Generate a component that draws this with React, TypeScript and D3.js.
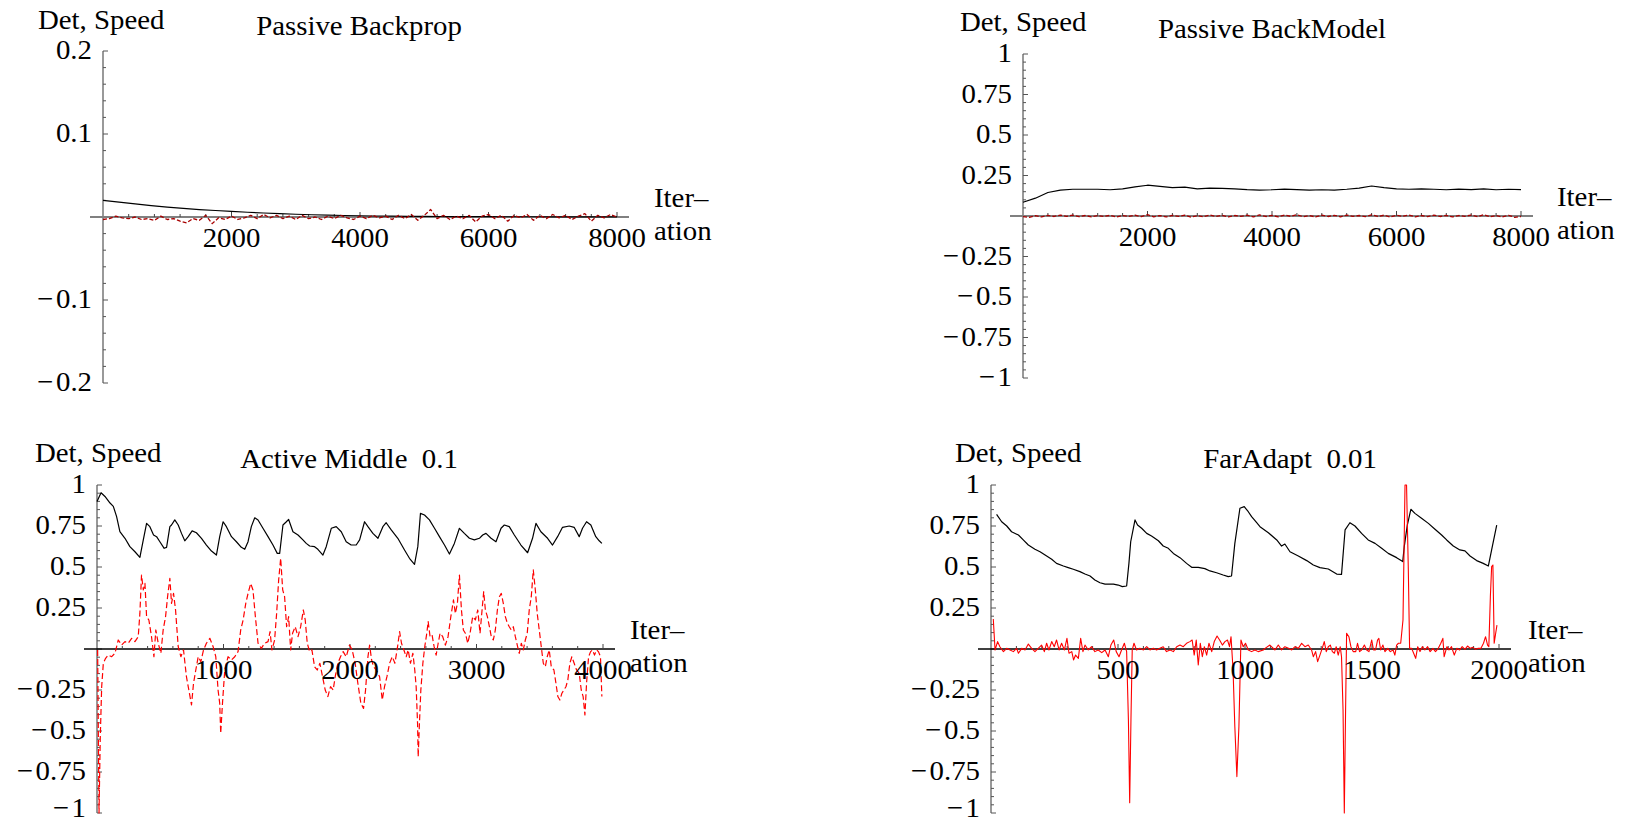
import React from 'react';
import * as d3 from 'd3';

const FONT = '"Liberation Serif", "Times New Roman", serif';

type Pt = [number, number];

// Passive Backprop (Det every 250 iterations, Speed every 100)
const backpropDet = [
  0.02, 0.018, 0.0158, 0.0138, 0.012, 0.0105, 0.009, 0.0078, 0.0067, 0.0057, 0.0048,
  0.004, 0.0033, 0.0027, 0.0022, 0.0018, 0.0015, 0.0012, 0.001, 0.0008, 0.0007,
  0.0006, 0.0005, 0.0004, 0.0004, 0.0003, 0.0003, 0.0003, 0.0002, 0.0002, 0.0002,
  0.0002, 0.0002,
];
const backpropSpeed = [
  -0.003, -0.002, 0.001, -0.001, -0.002, 0.0, -0.003, -0.002, -0.004, 0.001,
  -0.003, -0.002, -0.005, -0.007, -0.002, -0.004, 0.002, -0.008, -0.001, -0.003,
  0.001, -0.003, -0.001, 0.002, -0.002, 0.003, -0.001, 0.002, -0.002, 0.001,
  -0.003, 0.002, -0.002, 0.0, -0.003, 0.001, -0.002, 0.002, -0.001, -0.003,
  0.001, -0.002, 0.002, -0.001, 0.001, -0.003, 0.002, -0.002, 0.003, -0.004,
  0.002, 0.009, -0.002, 0.002, -0.003, 0.001, -0.002, 0.002, -0.006, 0.001,
  0.003, -0.002, 0.002, -0.005, 0.002, -0.001, 0.003, -0.004, 0.002, -0.002,
  0.003, -0.001, 0.002, -0.003, 0.001, 0.004, -0.005, 0.002, -0.001, 0.003, 0.0,
];

// Passive BackModel (Det every 200 iterations, Speed every 100)
const backModelDet = [
  0.085, 0.11, 0.145, 0.16, 0.165, 0.165, 0.165, 0.162, 0.168, 0.18, 0.19,
  0.183, 0.175, 0.178, 0.168, 0.172, 0.17, 0.168, 0.163, 0.16, 0.162,
  0.166, 0.163, 0.16, 0.162, 0.16, 0.165, 0.172, 0.185, 0.175, 0.168,
  0.165, 0.168, 0.165, 0.162, 0.166, 0.163, 0.168, 0.162, 0.165, 0.163,
];
const backModelSpeed = [
  -0.004, -0.008, 0.002, -0.006, 0.004, -0.003, 0.006, -0.002, 0.005, -0.004,
  0.003, -0.005, 0.002, -0.003, 0.004, -0.006, 0.003, -0.002, 0.005, -0.004,
  0.008, -0.005, 0.003, -0.006, 0.004, -0.002, 0.005, -0.007, 0.002, -0.004,
  0.006, -0.003, 0.004, -0.005, 0.003, -0.002, 0.005, -0.006, 0.007, -0.003,
  0.004, -0.005, 0.006, -0.002, 0.008, -0.004, 0.003, -0.006, 0.005, -0.003,
  0.004, -0.005, 0.006, -0.002, 0.003, -0.004, 0.007, -0.003, 0.005, -0.006,
  0.004, -0.002, 0.006, -0.005, 0.003, -0.004, 0.005, -0.003, 0.004, -0.006,
  0.003, -0.002, 0.006, -0.004, 0.008, -0.005, 0.003, -0.006, 0.004, -0.008, -0.003,
];

// Active Middle 0.1 : [iteration, value]
const activeDet: Pt[] = [
  [0, 0.9], [32, 0.953], [63, 0.93], [103, 0.89], [129, 0.87], [155, 0.807], [181, 0.715],
  [221, 0.675], [260, 0.624], [300, 0.593], [339, 0.559], [366, 0.665], [392, 0.766],
  [418, 0.746], [447, 0.695], [471, 0.685], [497, 0.654], [531, 0.614], [550, 0.62],
  [576, 0.746], [589, 0.756], [615, 0.787], [642, 0.756], [668, 0.705], [694, 0.66],
  [721, 0.685], [752, 0.72], [786, 0.709], [826, 0.675], [865, 0.634], [905, 0.597],
  [944, 0.573], [970, 0.685], [997, 0.776], [1023, 0.746], [1063, 0.685], [1102, 0.654],
  [1141, 0.62], [1168, 0.608], [1194, 0.654], [1220, 0.746], [1247, 0.8], [1273, 0.787],
  [1312, 0.736], [1352, 0.685], [1391, 0.634], [1425, 0.583], [1444, 0.583], [1470, 0.756],
  [1497, 0.776], [1515, 0.79], [1549, 0.715], [1589, 0.695], [1628, 0.665], [1654, 0.644],
  [1681, 0.628], [1720, 0.624], [1746, 0.608], [1786, 0.573], [1812, 0.624], [1852, 0.736],
  [1891, 0.746], [1931, 0.715], [1970, 0.654], [2009, 0.634], [2049, 0.634], [2076, 0.665],
  [2115, 0.776], [2142, 0.746], [2181, 0.705], [2221, 0.675], [2260, 0.746], [2286, 0.77],
  [2326, 0.726], [2378, 0.675], [2431, 0.604], [2470, 0.553], [2510, 0.516], [2536, 0.624],
  [2557, 0.827], [2589, 0.817], [2628, 0.787], [2668, 0.736], [2707, 0.685], [2747, 0.634],
  [2786, 0.579], [2825, 0.644], [2865, 0.736], [2904, 0.705], [2944, 0.675], [2983, 0.665],
  [3023, 0.675], [3049, 0.695], [3075, 0.705], [3115, 0.675], [3154, 0.654], [3194, 0.736],
  [3220, 0.756], [3259, 0.746], [3299, 0.695], [3351, 0.634], [3404, 0.587], [3443, 0.675],
  [3470, 0.766], [3509, 0.715], [3562, 0.675], [3601, 0.634], [3641, 0.685], [3680, 0.742],
  [3733, 0.75], [3772, 0.742], [3812, 0.685], [3838, 0.736], [3870, 0.776], [3904, 0.756],
  [3943, 0.685], [3970, 0.66], [3991, 0.644],
];
const activeSpeed: Pt[] = [
  [5, -0.006], [16, -1.0], [26, -0.535], [37, -0.23], [50, -0.087], [68, -0.057], [89, -0.037],
  [116, -0.047], [142, -0.026], [168, 0.055], [195, 0.024], [221, 0.045], [247, 0.035],
  [274, 0.065], [300, 0.045], [326, 0.075], [339, 0.217], [352, 0.451], [366, 0.36],
  [379, 0.4], [392, 0.197], [410, 0.177], [431, 0.075], [450, -0.047], [465, 0.116],
  [484, 0.035], [505, -0.026], [523, 0.116], [542, 0.197], [558, 0.319], [576, 0.431],
  [589, 0.278], [605, 0.339], [621, 0.238], [642, 0.014], [663, -0.047], [684, -0.006],
  [707, -0.169], [726, -0.25], [747, -0.341], [763, -0.209], [781, -0.128], [800, -0.047],
  [821, -0.077], [842, -0.006], [865, 0.035], [892, 0.065], [918, 0.014], [939, -0.047],
  [957, -0.25], [970, -0.331], [978, -0.514], [992, -0.331], [1010, -0.128], [1036, -0.047],
  [1063, -0.067], [1089, -0.047], [1115, -0.016], [1136, 0.116], [1155, 0.177], [1176, 0.278],
  [1194, 0.339], [1215, 0.4], [1233, 0.36], [1252, 0.197], [1273, 0.035], [1299, 0.004],
  [1325, 0.035], [1352, 0.045], [1368, 0.106], [1383, -0.006], [1404, 0.055], [1420, 0.217],
  [1436, 0.421], [1452, 0.553], [1468, 0.36], [1483, 0.319], [1499, 0.136], [1515, 0.197],
  [1531, -0.006], [1546, 0.096], [1567, 0.136], [1589, 0.075], [1610, 0.136], [1631, 0.238],
  [1646, 0.177], [1662, 0.035], [1681, -0.016], [1699, -0.006], [1720, -0.108], [1741, -0.128],
  [1762, -0.087], [1783, -0.169], [1804, -0.25], [1825, -0.29], [1846, -0.23], [1867, -0.25],
  [1883, -0.169], [1904, -0.087], [1925, -0.047], [1946, -0.016], [1970, -0.047], [1996, 0.024],
  [2017, -0.006], [2041, -0.087], [2062, -0.209], [2086, -0.331], [2107, -0.362], [2123, -0.25],
  [2142, -0.047], [2155, 0.024], [2171, -0.067], [2186, -0.108], [2207, -0.128], [2234, -0.169],
  [2255, -0.311], [2273, -0.23], [2292, -0.169], [2313, -0.087], [2334, -0.047], [2355, -0.087],
  [2376, 0.014], [2392, 0.106], [2407, 0.035], [2426, -0.006], [2444, -0.047], [2460, -0.006],
  [2478, -0.087], [2497, -0.026], [2512, -0.128], [2523, -0.23], [2534, -0.453], [2539, -0.657],
  [2549, -0.453], [2560, -0.25], [2576, -0.087], [2591, 0.014], [2607, 0.096], [2618, 0.167],
  [2633, 0.075], [2649, 0.085], [2665, 0.014], [2681, -0.037], [2697, 0.035], [2712, 0.096],
  [2733, 0.075], [2754, 0.024], [2775, 0.075], [2797, 0.197], [2818, 0.299], [2833, 0.217],
  [2849, 0.278], [2865, 0.451], [2881, 0.238], [2896, 0.116], [2912, 0.096], [2931, 0.035],
  [2949, 0.096], [2970, 0.197], [2991, 0.177], [3010, 0.238], [3028, 0.096], [3044, 0.238],
  [3057, 0.35], [3070, 0.238], [3086, 0.197], [3102, 0.136], [3117, 0.075], [3133, 0.055],
  [3149, 0.116], [3165, 0.238], [3181, 0.319], [3196, 0.339], [3212, 0.278], [3228, 0.197],
  [3244, 0.157], [3259, 0.136], [3275, 0.116], [3291, 0.136], [3307, 0.075], [3325, 0.014],
  [3338, -0.026], [3354, 0.035], [3370, -0.006], [3386, 0.055], [3401, 0.096], [3417, 0.238],
  [3433, 0.319], [3449, 0.482], [3465, 0.36], [3480, 0.217], [3496, 0.116], [3512, 0.014],
  [3528, -0.087], [3544, -0.108], [3559, -0.047], [3575, -0.006], [3591, -0.108], [3612, -0.128],
  [3628, -0.209], [3643, -0.29], [3659, -0.311], [3675, -0.27], [3691, -0.25], [3707, -0.23],
  [3722, -0.189], [3738, -0.087], [3754, -0.047], [3772, -0.087], [3791, -0.128], [3812, -0.148],
  [3828, -0.25], [3843, -0.29], [3857, -0.402], [3870, -0.209], [3886, -0.047], [3902, -0.016],
  [3917, -0.006], [3933, -0.037], [3949, -0.006], [3964, -0.016], [3980, -0.047], [3991, -0.29],
];

// FarAdapt 0.01 : [iteration, value]
const farDet: Pt[] = [
  [22, 0.821], [42, 0.776], [62, 0.75], [81, 0.715], [108, 0.695], [127, 0.665], [147, 0.634],
  [173, 0.608], [193, 0.593], [213, 0.573], [239, 0.547], [258, 0.522], [285, 0.506],
  [304, 0.496], [324, 0.486], [350, 0.472], [370, 0.457], [390, 0.445], [409, 0.421],
  [429, 0.404], [449, 0.396], [482, 0.396], [501, 0.39], [517, 0.38], [534, 0.384],
  [543, 0.522], [550, 0.654], [567, 0.787], [577, 0.756], [593, 0.736], [613, 0.705],
  [632, 0.689], [659, 0.66], [678, 0.628], [698, 0.614], [718, 0.583], [744, 0.557],
  [770, 0.522], [790, 0.498], [816, 0.498], [842, 0.49], [862, 0.476], [888, 0.465],
  [914, 0.451], [934, 0.441], [947, 0.445], [960, 0.644], [980, 0.858], [997, 0.868],
  [1013, 0.837], [1026, 0.807], [1046, 0.77], [1059, 0.746], [1092, 0.709], [1125, 0.665],
  [1144, 0.628], [1157, 0.64], [1177, 0.593], [1210, 0.567], [1243, 0.539], [1269, 0.512],
  [1295, 0.496], [1328, 0.488], [1361, 0.457], [1380, 0.455], [1394, 0.726], [1413, 0.77],
  [1433, 0.75], [1459, 0.705], [1485, 0.665], [1512, 0.644], [1538, 0.614], [1564, 0.583],
  [1597, 0.557], [1621, 0.533], [1627, 0.624], [1639, 0.756], [1653, 0.852], [1669, 0.827],
  [1695, 0.797], [1722, 0.766], [1748, 0.73], [1774, 0.695], [1794, 0.665], [1820, 0.628],
  [1846, 0.604], [1866, 0.598], [1886, 0.567], [1912, 0.539], [1938, 0.522], [1958, 0.506],
  [1971, 0.604], [1991, 0.756],
];
const farSpeed: Pt[] = [
  [9, 0.183], [16, -0.006], [26, 0.045], [35, 0.014], [49, -0.016], [62, 0.004], [75, -0.006],
  [88, -0.016], [101, 0.004], [108, -0.026], [121, 0.004], [134, -0.006], [147, 0.03],
  [160, 0.004], [173, -0.016], [186, 0.004], [199, 0.024], [210, -0.016], [219, 0.035],
  [228, -0.006], [239, 0.045], [249, 0.014], [258, 0.055], [268, -0.006], [278, 0.035],
  [289, -0.006], [299, 0.065], [307, -0.026], [318, -0.016], [325, -0.067], [333, -0.037],
  [344, -0.057], [353, 0.065], [362, -0.016], [370, 0.024], [383, -0.006], [396, 0.014],
  [409, -0.016], [422, -0.006], [436, -0.022], [449, -0.006], [462, -0.047], [472, 0.024],
  [483, 0.055], [493, -0.016], [504, -0.047], [514, -0.006], [525, 0.035], [534, -0.016],
  [541, -0.433], [546, -0.937], [551, -0.433], [556, -0.006], [563, 0.035], [573, -0.006],
  [586, 0.004], [600, -0.006], [613, 0.014], [626, -0.006], [639, 0.004], [652, -0.006],
  [665, 0.004], [678, 0.014], [691, -0.016], [705, -0.006], [718, -0.016], [731, 0.014],
  [744, 0.024], [757, 0.014], [770, 0.035], [783, 0.045], [792, 0.055], [800, -0.037],
  [808, 0.055], [816, -0.098], [824, 0.035], [832, -0.047], [840, 0.014], [849, -0.037],
  [858, 0.035], [869, -0.016], [879, 0.045], [890, 0.079], [900, 0.055], [911, 0.024],
  [921, 0.045], [931, 0.055], [939, 0.014], [945, 0.075], [953, -0.128], [960, -0.474],
  [968, -0.778], [976, -0.474], [984, 0.055], [993, 0.014], [1002, 0.035], [1013, -0.006],
  [1026, -0.016], [1039, -0.006], [1052, -0.016], [1072, -0.006], [1079, 0.004], [1098, 0.024],
  [1118, -0.006], [1131, 0.024], [1144, -0.006], [1157, 0.014], [1171, 0.004], [1184, -0.006],
  [1197, 0.014], [1210, 0.004], [1223, 0.035], [1236, 0.014], [1249, 0.024], [1262, -0.006],
  [1269, -0.047], [1278, -0.016], [1286, -0.077], [1295, -0.037], [1304, 0.004], [1312, 0.045],
  [1320, -0.016], [1328, 0.014], [1336, 0.024], [1344, -0.016], [1352, -0.026], [1359, 0.014],
  [1367, -0.037], [1375, 0.014], [1380, -0.047], [1386, -0.372], [1391, -1.0], [1396, -0.372],
  [1400, 0.096], [1409, 0.075], [1417, 0.014], [1426, -0.016], [1436, -0.016], [1443, 0.035],
  [1451, -0.016], [1459, -0.006], [1470, 0.024], [1479, -0.006], [1488, -0.016], [1499, 0.055],
  [1506, -0.006], [1514, -0.006], [1522, 0.055], [1527, 0.065], [1534, -0.006], [1543, 0.024],
  [1551, -0.016], [1562, 0.004], [1572, -0.016], [1583, -0.006], [1590, -0.037], [1597, 0.024],
  [1604, 0.035], [1613, 0.035], [1622, 0.177], [1630, 1.0], [1636, 1.0], [1643, 0.482],
  [1648, 0.004], [1656, 0.004], [1664, -0.026], [1672, -0.057], [1680, 0.014], [1689, -0.016],
  [1698, 0.014], [1708, -0.006], [1719, 0.014], [1729, -0.016], [1740, 0.004], [1750, -0.016],
  [1761, 0.004], [1771, 0.035], [1779, 0.065], [1784, -0.047], [1795, 0.014], [1803, -0.006],
  [1813, 0.014], [1824, -0.037], [1834, 0.004], [1845, -0.006], [1855, 0.014], [1866, -0.002],
  [1876, 0.018], [1887, 0.004], [1897, 0.01], [1908, -0.002], [1918, 0.004], [1929, 0.004],
  [1939, 0.035], [1947, 0.075], [1955, 0.024], [1960, 0.014], [1966, 0.319], [1971, 0.502],
  [1976, 0.512], [1981, 0.035], [1987, 0.096], [1992, 0.146],
];

const passiveYTicks = [-0.2, -0.1, 0.1, 0.2];
const unitYTicks = [-1, -0.75, -0.5, -0.25, 0.25, 0.5, 0.75, 1];
const passiveXTicks = [2000, 4000, 6000, 8000];
const activeXTicks = [1000, 2000, 3000, 4000];
const farXTicks = [500, 1000, 1500, 2000];

// evenly spread a regularly sampled series over [0, xMax]
const spread = (vals: number[], xMax: number): Pt[] =>
  vals.map((v, i) => [(i * xMax) / (vals.length - 1), v]);

const fmt = (v: number) => (v < 0 ? '\u2212\u200a' + Math.abs(v) : String(v));

function Label({ x, y, anchor = 'start', children }: any) {
  return (
    <text
      transform={`translate(${x},${y}) scale(1.03,1)`}
      textAnchor={anchor}
      fontFamily={FONT}
      fontSize={28}
      fill="#000"
      style={{ whiteSpace: 'pre' }}
    >
      {children}
    </text>
  );
}

interface Series {
  points: Pt[];
  color: string;
  width: number;
  dash?: string;
}

interface PanelProps {
  title: string;
  titleX: number;
  titleY: number;
  detX: number;
  detY: number;
  axisX: number;
  xEnd: number;
  yTop: number;
  yBottom: number;
  xMax: number;
  yLim: number;
  xTicks: number[];
  xMinor: number;
  yTicks: number[];
  yMinor: number;
  iterX: number;
  xAxisColor: string;
  xAxisWidth: number;
  series: Series[];
}

function Panel(p: PanelProps) {
  const x = d3.scaleLinear().domain([0, p.xMax]).range([p.axisX, p.xEnd]);
  const y = d3.scaleLinear().domain([-p.yLim, p.yLim]).range([p.yBottom, p.yTop]);
  const y0 = y(0);
  const line = d3
    .line<Pt>()
    .x((d) => x(d[0]))
    .y((d) => y(d[1]));

  const yMajor = p.yTicks[p.yTicks.length - 1] - p.yTicks[p.yTicks.length - 2];
  const xMajor = p.xTicks[1] - p.xTicks[0];
  const isMajor = (v: number, step: number) => Math.abs(v / step - Math.round(v / step)) < 1e-6;
  const yMinorTicks = d3.range(-p.yLim, p.yLim + 1e-9, p.yMinor);
  const xMinorTicks = d3.range(p.xMinor, p.xMax + 1e-9, p.xMinor);

  return (
    <g>
      {/* y axis with inward ticks */}
      <line x1={p.axisX} x2={p.axisX} y1={p.yTop} y2={p.yBottom} stroke="#555" strokeWidth={1.2} />
      {yMinorTicks.map((v, i) => (
        <line
          key={'yt' + i}
          x1={p.axisX}
          x2={p.axisX + (isMajor(v, yMajor) ? 5 : 3)}
          y1={y(v)}
          y2={y(v)}
          stroke="#555"
          strokeWidth={1}
        />
      ))}
      {/* x axis */}
      <line
        x1={p.axisX - 13}
        x2={p.xEnd + 12}
        y1={y0}
        y2={y0}
        stroke={p.xAxisColor}
        strokeWidth={p.xAxisWidth}
      />
      {xMinorTicks.map((v, i) => (
        <line
          key={'xt' + i}
          x1={x(v)}
          x2={x(v)}
          y1={y0}
          y2={y0 - (isMajor(v, xMajor) ? 5 : 3)}
          stroke="#444"
          strokeWidth={1}
        />
      ))}

      {p.series.map((s, i) => (
        <path
          key={'s' + i}
          d={line(s.points) || ''}
          fill="none"
          stroke={s.color}
          strokeWidth={s.width}
          strokeDasharray={s.dash}
          strokeLinejoin="round"
        />
      ))}

      {p.yTicks.map((v) => (
        <Label key={'yl' + v} x={p.axisX - 11} y={Math.min(y(v) + 8, 817)} anchor="end">
          {fmt(v)}
        </Label>
      ))}
      {p.xTicks.map((v) => (
        <Label key={'xl' + v} x={x(v)} y={y0 + 30} anchor="middle">
          {fmt(v)}
        </Label>
      ))}

      <Label x={p.iterX} y={y0 - 10}>Iter–</Label>
      <Label x={p.iterX} y={y0 + 23}>ation</Label>
      <Label x={p.detX} y={p.detY}>Det, Speed</Label>
      <Label x={p.titleX} y={p.titleY} anchor="middle">{p.title}</Label>
    </g>
  );
}

export default function App() {
  return (
    <svg
      width={1625}
      height={825}
      style={{ position: 'absolute', left: 0, top: 0, display: 'block', background: '#fff' }}
    >
      <Panel
        title="Passive Backprop"
        titleX={359}
        titleY={35}
        detX={38}
        detY={29}
        axisX={103}
        xEnd={617}
        yTop={51}
        yBottom={383}
        xMax={8000}
        yLim={0.2}
        xTicks={passiveXTicks}
        xMinor={400}
        yTicks={passiveYTicks}
        yMinor={0.02}
        iterX={654}
        xAxisColor="#808080"
        xAxisWidth={2}
        series={[
          { points: spread(backpropDet, 8000), color: '#000', width: 1.2 },
          { points: spread(backpropSpeed, 8000), color: '#a80000', width: 1.3, dash: '4,2' },
        ]}
      />
      <Panel
        title="Passive BackModel"
        titleX={1272}
        titleY={38}
        detX={960}
        detY={31}
        axisX={1023}
        xEnd={1521}
        yTop={54}
        yBottom={378}
        xMax={8000}
        yLim={1}
        xTicks={passiveXTicks}
        xMinor={400}
        yTicks={unitYTicks}
        yMinor={0.05}
        iterX={1557}
        xAxisColor="#808080"
        xAxisWidth={2}
        series={[
          { points: spread(backModelDet, 8000), color: '#000', width: 1.2 },
          { points: spread(backModelSpeed, 8000), color: '#a80000', width: 1.3, dash: '4,2' },
        ]}
      />
      <Panel
        title="Active Middle  0.1"
        titleX={349}
        titleY={468}
        detX={35}
        detY={462}
        axisX={97}
        xEnd={603}
        yTop={485}
        yBottom={813}
        xMax={4000}
        yLim={1}
        xTicks={activeXTicks}
        xMinor={200}
        yTicks={unitYTicks}
        yMinor={0.05}
        iterX={630}
        xAxisColor="#000"
        xAxisWidth={1.5}
        series={[
          { points: activeDet, color: '#000', width: 1.2 },
          { points: activeSpeed, color: '#ff0000', width: 1.2, dash: '6,3' },
        ]}
      />
      <Panel
        title="FarAdapt  0.01"
        titleX={1290}
        titleY={468}
        detX={955}
        detY={462}
        axisX={991}
        xEnd={1499}
        yTop={485}
        yBottom={813}
        xMax={2000}
        yLim={1}
        xTicks={farXTicks}
        xMinor={100}
        yTicks={unitYTicks}
        yMinor={0.05}
        iterX={1528}
        xAxisColor="#000"
        xAxisWidth={1.5}
        series={[
          { points: farDet, color: '#000', width: 1.2 },
          { points: farSpeed, color: '#ff0000', width: 1.1 },
        ]}
      />
    </svg>
  );
}
